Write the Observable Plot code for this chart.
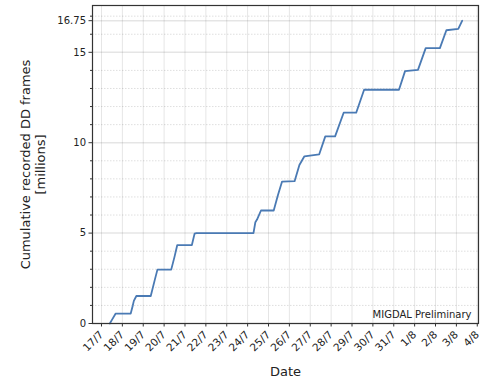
<!DOCTYPE html>
<html>
<head>
<meta charset="utf-8">
<script src="https://cdn.jsdelivr.net/npm/d3@7"></script>
<script src="https://cdn.jsdelivr.net/npm/@observablehq/plot@0.6"></script>
<style>
  html, body { margin: 0; padding: 0; background: #fff; }
  #chart { width: 485px; height: 380px; }
</style>
</head>
<body>
<div id="chart"></div>
<script>
// Timestamps (UTC) and cumulative recorded DD frames in millions
const times = [
  "2023-07-17T09:36Z","2023-07-17T12:00Z","2023-07-17T16:19Z",
  "2023-07-18T09:36Z","2023-07-18T12:00Z","2023-07-18T13:12Z","2023-07-18T16:05Z",
  "2023-07-19T08:38Z","2023-07-19T13:12Z","2023-07-19T16:19Z",
  "2023-07-20T08:10Z","2023-07-20T12:00Z","2023-07-20T15:07Z",
  "2023-07-21T07:55Z","2023-07-21T11:02Z","2023-07-21T13:12Z",
  "2023-07-24T06:43Z","2023-07-24T08:53Z","2023-07-24T10:48Z","2023-07-24T15:22Z",
  "2023-07-25T06:00Z","2023-07-25T10:48Z","2023-07-25T15:36Z",
  "2023-07-26T06:00Z","2023-07-26T11:31Z","2023-07-26T17:17Z",
  "2023-07-27T10:19Z","2023-07-27T17:17Z",
  "2023-07-28T04:34Z","2023-07-28T14:24Z",
  "2023-07-29T04:48Z","2023-07-29T13:55Z",
  "2023-07-31T06:00Z","2023-07-31T12:58Z",
  "2023-08-01T03:50Z","2023-08-01T12:43Z",
  "2023-08-02T05:02Z","2023-08-02T12:29Z",
  "2023-08-03T02:10Z","2023-08-03T06:43Z"
];
const frames = [
  0, 0.2, 0.55,
  0.55, 1.0, 1.25, 1.52,
  1.52, 2.4, 2.98,
  2.98, 3.7, 4.34,
  4.34, 4.97, 5.0,
  5.0, 5.6, 5.75, 6.25,
  6.25, 7.1, 7.85,
  7.87, 8.77, 9.25,
  9.36, 10.35,
  10.35, 11.66,
  11.66, 12.93,
  12.93, 13.96,
  14.03, 15.23,
  15.23, 16.22,
  16.3, 16.75
];
const majorYTicks = [0, 5, 10, 15, 16.75];
const minorYTicks = [1,2,3,4,6,7,8,9,11,12,13,14,16,17];
const xTickDays = ["2023-07-17","2023-07-18","2023-07-19","2023-07-20","2023-07-21","2023-07-22",
  "2023-07-23","2023-07-24","2023-07-25","2023-07-26","2023-07-27","2023-07-28","2023-07-29",
  "2023-07-30","2023-07-31","2023-08-01","2023-08-02","2023-08-03","2023-08-04"];
const xDomain = ["2023-07-16T13:40Z", "2023-08-04T01:25Z"];
const yDomain = [0, 17.59];

const data = times.map((t, i) => ({date: new Date(t), value: frames[i]}));
const xTicks = xTickDays.map(s => new Date(s + "T00:00Z"));
const fmt = d3.utcFormat("%-d/%-m");

const plot = Plot.plot({
  width: 485,
  height: 380,
  marginLeft: 92,
  marginRight: 7,
  marginTop: 5,
  marginBottom: 57,
  style: {fontFamily: "'DejaVu Sans', sans-serif", fontSize: "10px", color: "#222", background: "#fff"},
  x: {type: "utc", domain: xDomain.map(s => new Date(s))},
  y: {domain: yDomain},
  marks: [
    Plot.gridX(xTicks, {stroke: "#000", strokeOpacity: 0.1, strokeWidth: 1}),
    Plot.gridY(minorYTicks, {stroke: "#000", strokeOpacity: 0.13, strokeDasharray: "1.5,1.5", strokeWidth: 1}),
    Plot.gridY(majorYTicks, {stroke: "#000", strokeOpacity: 0.1, strokeWidth: 1.5}),
    Plot.line(data, {x: "date", y: "value", stroke: "#4a7ab4", strokeWidth: 1.8, curve: "linear"}),
    Plot.axisY(minorYTicks, {tickSize: 2, text: null, label: null, stroke: "#333"}),
    Plot.axisY(majorYTicks, {tickSize: 3.5, tickPadding: 3, label: null, fontSize: 10, tickFormat: d => String(d), stroke: "#333", fill: "#222"}),
    Plot.axisX(xTicks, {tickSize: 3.5, tickRotate: -45, tickPadding: 6, tickFormat: fmt, label: null, fontSize: 10.5, stroke: "#333", fill: "#222"}),
    Plot.frame({stroke: "#333", strokeWidth: 1.2}),
    Plot.text(["MIGDAL Preliminary"], {frameAnchor: "bottom-right", dx: -7, dy: -6, fontSize: 10, fill: "#222", textAnchor: "end"}),
    Plot.text(["Cumulative recorded DD frames\n[millions]"], {frameAnchor: "left", textAnchor: "middle", lineAnchor: "middle", dx: -60, rotate: -90, fontSize: 13, lineHeight: 1.15, fill: "#222"}),
    Plot.text(["Date"], {frameAnchor: "bottom", dy: 52, fontSize: 13, fill: "#222"})
  ]
});
document.getElementById("chart").appendChild(plot);
</script>
</body>
</html>
